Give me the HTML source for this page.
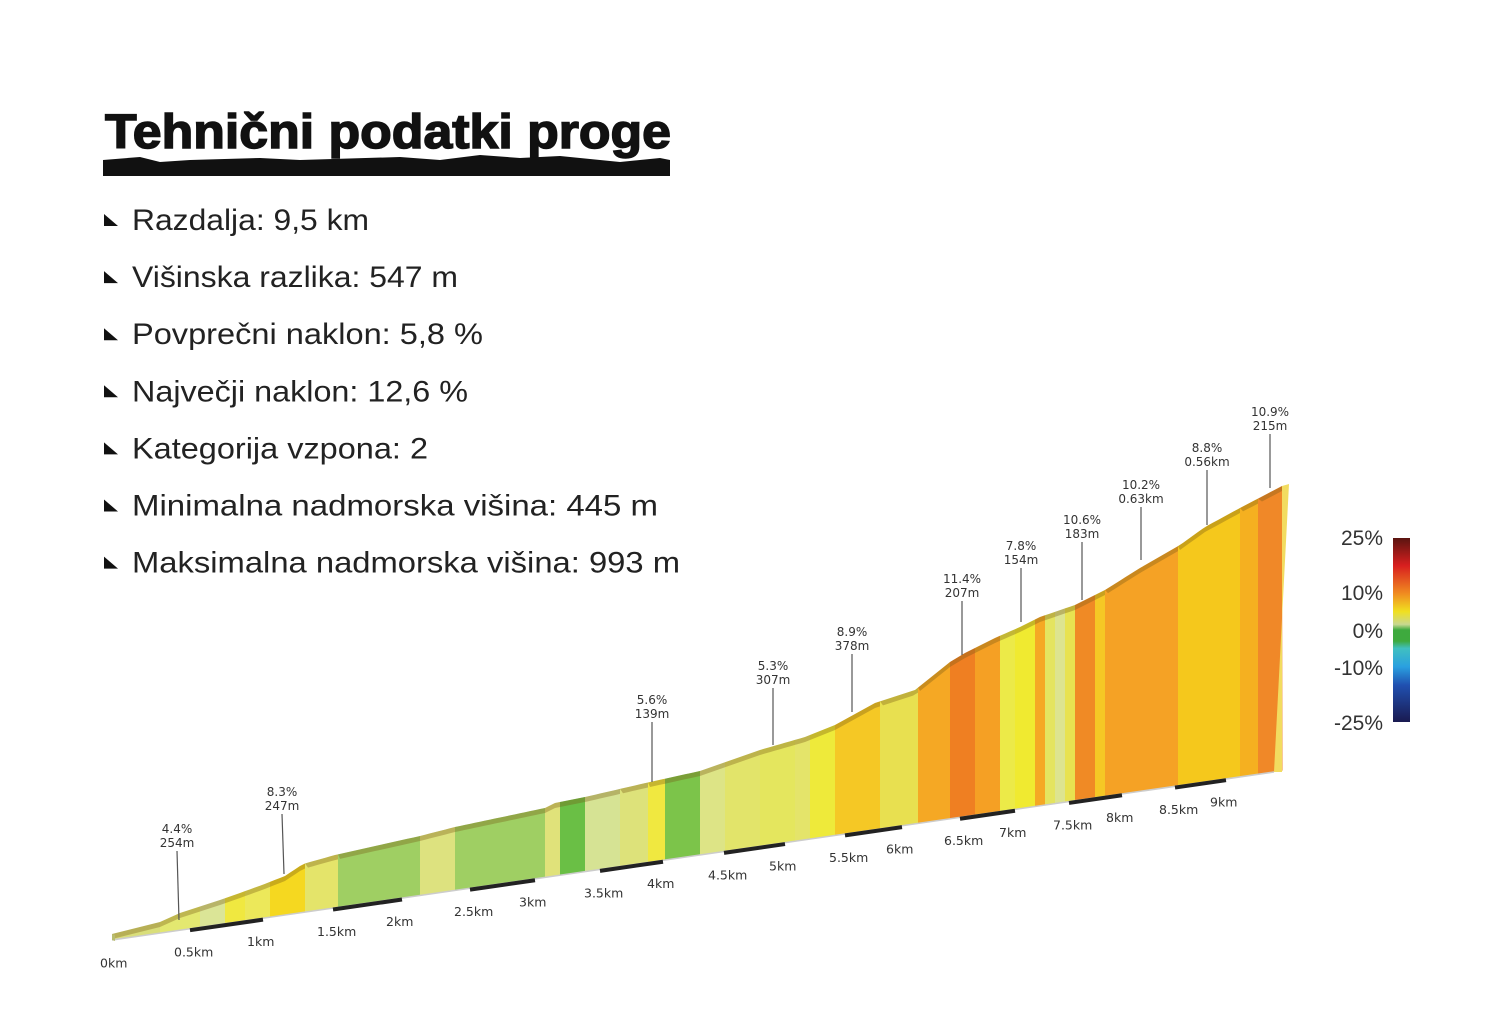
<!DOCTYPE html>
<html><head><meta charset="utf-8">
<style>
html,body{margin:0;padding:0;background:#fff;}
svg{display:block;}
.t{font-family:"Liberation Sans","DejaVu Sans",sans-serif;fill:#222;}
.a{font-family:"DejaVu Sans","Liberation Sans",sans-serif;font-size:12px;fill:#333;text-anchor:middle;}
.k{font-family:"DejaVu Sans","Liberation Sans",sans-serif;font-size:12.5px;fill:#333;}
.l{font-family:"Liberation Sans","DejaVu Sans",sans-serif;font-size:21px;fill:#333;text-anchor:end;}
</style></head>
<body>
<svg id="s" width="1500" height="1029" viewBox="0 0 1500 1029" xmlns="http://www.w3.org/2000/svg">
<defs>
<linearGradient id="g" x1="0" y1="0" x2="0" y2="1">
<stop offset="0" stop-color="#5a1410"/>
<stop offset="0.15" stop-color="#d81f1f"/>
<stop offset="0.3" stop-color="#f08a20"/>
<stop offset="0.4" stop-color="#f0e020"/>
<stop offset="0.47" stop-color="#c8d890"/>
<stop offset="0.5" stop-color="#3eaa3e"/>
<stop offset="0.56" stop-color="#3eaa3e"/>
<stop offset="0.6" stop-color="#40c0c0"/>
<stop offset="0.7" stop-color="#2aa0e0"/>
<stop offset="0.8" stop-color="#2050b0"/>
<stop offset="1" stop-color="#1a1a50"/>
</linearGradient>
</defs>
<text class="t" x="105" y="148" font-size="48" font-weight="bold" textLength="566" lengthAdjust="spacingAndGlyphs" style="fill:#111;stroke:#111;stroke-width:1.5">Tehnični podatki proge</text>
<path d="M103,160 L140,157 L160,162 L190,160 L260,158 L300,160 L400,157 L440,160 L480,155 L520,158 L560,156 L620,162 L660,158 L670,160 L670,176 L103,176 Z" fill="#111"/>
<g id="bul"></g>
<g id="prof"></g>
<rect x="1393" y="538" width="17" height="184" fill="url(#g)"/>
<text class="l" x="1383" y="545">25%</text>
<text class="l" x="1383" y="600">10%</text>
<text class="l" x="1383" y="638">0%</text>
<text class="l" x="1383" y="675">-10%</text>
<text class="l" x="1383" y="730">-25%</text>
</svg>
<script>
(function(){
var NS="http://www.w3.org/2000/svg",S=document.getElementById('s');
function el(n,a,p,txt){var e=document.createElementNS(NS,n);for(var k in a)e.setAttribute(k,a[k]);if(txt!==undefined)e.textContent=txt;(p||S).appendChild(e);return e;}
var items=["Razdalja: 9,5 km","Višinska razlika: 547 m","Povprečni naklon: 5,8 %","Največji naklon: 12,6 %","Kategorija vzpona: 2","Minimalna nadmorska višina: 445 m","Maksimalna nadmorska višina: 993 m"];
var widths=[237,326,351,336,296,526,548];
var B=document.getElementById('bul');
items.forEach(function(t,i){var y=230+i*57.1;
el('polygon',{points:"104,"+(y-16)+" 118,"+(y-4)+" 104,"+(y-4),fill:"#111"},B);
el('text',{class:"t",x:132,y:y,"font-size":"30",textLength:widths[i],lengthAdjust:"spacingAndGlyphs"},B,t);});
var P=document.getElementById('prof');
var prof=[[112,934],[160,922],[180,913],[220,900],[240,893],[262,885],[285,876],[303,864],[335,855],[420,836],[455,827],[545,808],[555,803],[585,797],[650,782],[700,771],[760,750],[805,737],[835,725],[875,703],[915,690],[950,662],[965,653],[995,638],[1020,627],[1040,617],[1075,605],[1105,590],[1140,568],[1180,545],[1205,527],[1240,508],[1282,486]];
function ty(x){for(var i=0;i<prof.length-1;i++){var a=prof[i],b=prof[i+1];if(x<=b[0])return a[1]+(b[1]-a[1])*(x-a[0])/(b[0]-a[0]);}return prof[prof.length-1][1];}
function by(x){return 940-0.1448*(x-112);}
var segs=[[112,160,"#d9de7a"],[160,200,"#e3e870"],[200,225,"#dbe597"],[225,245,"#f0e840"],[245,270,"#ece85a"],[270,305,"#f5d820"],[305,338,"#e4e46a"],[338,420,"#9fcf63"],[420,455,"#dde27f"],[455,545,"#9fcf63"],[545,560,"#e0e27a"],[560,585,"#6abf45"],[585,620,"#d6e394"],[620,648,"#dde27a"],[648,665,"#f0e840"],[665,700,"#7cc44a"],[700,725,"#dde486"],[725,760,"#e2e46a"],[760,795,"#e4e65e"],[795,810,"#e4e46a"],[810,835,"#eeea3a"],[835,880,"#f5c825"],[880,918,"#e8e050"],[918,950,"#f5a824"],[950,975,"#ef7f22"],[975,1000,"#f5a024"],[1000,1015,"#ecea48"],[1015,1035,"#f0ea30"],[1035,1045,"#f5a824"],[1045,1055,"#e4e460"],[1055,1065,"#dde490"],[1065,1075,"#e8e250"],[1075,1095,"#f08a25"],[1095,1105,"#f5c825"],[1105,1178,"#f5a225"],[1178,1240,"#f5c81c"],[1240,1258,"#f5b020"],[1258,1282,"#f08828"]];
segs.forEach(function(s){var a=s[0],b=s[1];var pts=[];for(var x=a;x<b;x+=5)pts.push(x+","+ty(x));pts.push(b+","+ty(b));pts.push((b+0.5)+","+by(b));pts.push(a+","+by(a));
el('polygon',{points:pts.join(" "),fill:s[2]},P);
var rim=[];for(var x=a;x<b;x+=5)rim.push(x+","+ty(x));rim.push(b+","+ty(b));rim.push((b+0.5)+","+(ty(b)+5));for(var x2=b;x2>=a;x2-=5)rim.push(x2+","+(ty(x2)+5));
el('polygon',{points:rim.join(" "),fill:"rgba(120,90,20,0.35)"},P);});
el('polygon',{points:"1282,486 1289,484 1274,772 1282,772",fill:"#f2dc60"},P);
el('line',{x1:112,y1:940,x2:1274,y2:772,stroke:"#ccc","stroke-width":1.5},P);
el('polygon',{points:"112,934 112,940 115,941 115,935",fill:"#b8bc70"},P);
var km=[[116,"0km"],[190,"0.5km"],[263,"1km"],[333,"1.5km"],[402,"2km"],[470,"2.5km"],[535,"3km"],[600,"3.5km"],[663,"4km"],[724,"4.5km"],[785,"5km"],[845,"5.5km"],[902,"6km"],[960,"6.5km"],[1015,"7km"],[1069,"7.5km"],[1122,"8km"],[1175,"8.5km"],[1226,"9km"]];
km.forEach(function(k,i){el('text',{class:"k",x:k[0]-16,y:by(k[0])+28},P,k[1]);
if(i%2==1&&km[i+1]){var a=k[0],b=km[i+1][0];el('line',{x1:a,y1:by(a)+1.5,x2:b,y2:by(b)+1.5,stroke:"#222","stroke-width":4},P);}});
var an=[[177,"4.4%","254m",829,920],[282,"8.3%","247m",792,874],[652,"5.6%","139m",700,782],[773,"5.3%","307m",666,745],[852,"8.9%","378m",632,712],[962,"11.4%","207m",579,655],[1021,"7.8%","154m",546,622],[1082,"10.6%","183m",520,600],[1141,"10.2%","0.63km",485,560],[1207,"8.8%","0.56km",448,525],[1270,"10.9%","215m",412,488]];
an.forEach(function(a){el('text',{class:"a",x:a[0],y:a[3]+4},P,a[1]);el('text',{class:"a",x:a[0],y:a[3]+18},P,a[2]);
el('line',{x1:a[0],y1:a[3]+22,x2:a[0]+(a[0]<300?2:0),y2:a[4],stroke:"#555","stroke-width":1.2},P);});
})();
</script>
</body></html>
